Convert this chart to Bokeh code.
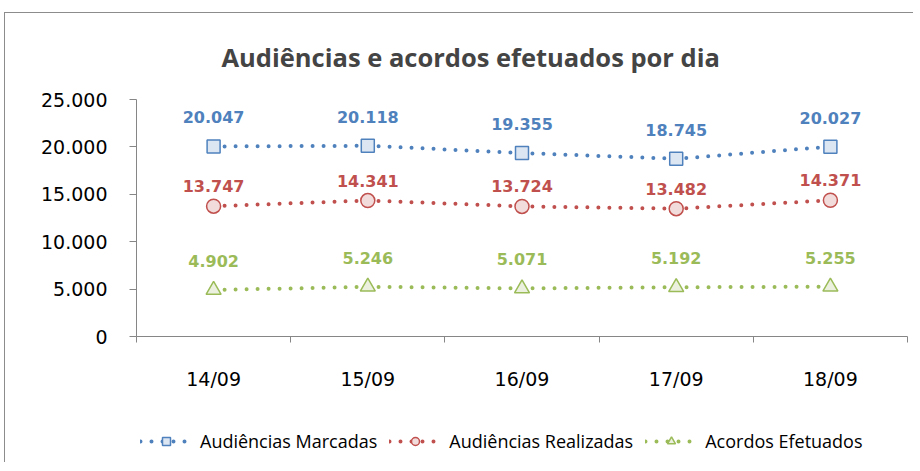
from bokeh.plotting import figure
from bokeh.layouts import column
from bokeh.models import FixedTicker, Range1d, Legend, LegendItem, ColumnDataSource
from bokeh.core.properties import value
from bokeh.embed import file_html
from bokeh.resources import INLINE

# ---- data ----
days = ["14/09", "15/09", "16/09", "17/09", "18/09"]
marcadas = [20047, 20118, 19355, 18745, 20027]
realizadas = [13747, 14341, 13724, 13482, 14371]
acordos = [4902, 5246, 5071, 5192, 5255]
y_ticks = [0, 5000, 10000, 15000, 20000, 25000]

series = [
    ("Audiências Marcadas", marcadas, "#4f81bd", "#dce6f2", "square", 13, 29),
    ("Audiências Realizadas", realizadas, "#c0504d", "#f2dcdb", "circle", 14, 20),
    ("Acordos Efetuados", acordos, "#9bbb59", "#ebf1de", "triangle", 15, 29),
]

def fmt(v):
    return f"{v:,}".replace(",", ".")

xs = [i + 0.5 for i in range(len(days))]

p = figure(frame_width=771, frame_height=237, x_range=Range1d(0, len(days)), y_range=Range1d(0, 25000),
           output_backend="svg", toolbar_location=None,
           min_border_left=131, min_border_right=6, min_border_top=86, min_border_bottom=0)
p.outline_line_color = None
p.xgrid.visible = False
p.ygrid.visible = False
p.background_fill_color = "white"
p.border_fill_color = "white"

p.title.text = "Audiências e acordos efetuados por dia"
p.title.text_font = "Open Sans"
p.title.text_font_style = "bold"
p.title.text_font_size = "25.5px"
p.title.align = "left"
p.title.offset = 85
p.title.vertical_align = "top"
p.title.standoff = 48

axis_color = "#868686"
yax = p.yaxis[0]
yax.ticker = FixedTicker(ticks=y_ticks)
yax.major_label_overrides = {t: fmt(t) for t in y_ticks}
yax.axis_line_color = axis_color
yax.major_tick_line_color = axis_color
yax.major_tick_out = 7
yax.major_tick_in = 0
yax.minor_tick_line_color = None
yax.major_label_text_font = "DejaVu Sans"
yax.major_label_text_font_size = "19px"
yax.major_label_text_color = "black"
yax.major_label_standoff = 22

xax = p.xaxis[0]
xax.ticker = FixedTicker(ticks=xs, minor_ticks=list(range(len(days) + 1)))
xax.major_label_overrides = {x: d for x, d in zip(xs, days)}
xax.axis_line_color = axis_color
xax.major_tick_line_color = None
xax.major_tick_out = 0
xax.major_tick_in = 0
xax.minor_tick_line_color = axis_color
xax.minor_tick_out = 6
xax.minor_tick_in = 0
xax.major_label_text_font = "DejaVu Sans"
xax.major_label_text_font_size = "19px"
xax.major_label_text_color = "black"
xax.major_label_standoff = 25

# legend strip (separate figure holding only the legend)
leg = figure(width=908, height=70, x_range=Range1d(0, 1), y_range=Range1d(0, 1),
             output_backend="svg", toolbar_location=None,
             x_axis_location=None, y_axis_location=None,
             min_border_left=0, min_border_right=0, min_border_top=0, min_border_bottom=0)
leg.outline_line_color = None
leg.xgrid.visible = False
leg.ygrid.visible = False
leg.background_fill_color = "white"
leg.border_fill_color = "white"

items = []
for name, vals, col, fill, marker, size, off in series:
    src = ColumnDataSource(dict(x=xs, y=vals, lab=[fmt(v) for v in vals]))
    p.line("x", "y", source=src, line_color=col, line_width=4, line_dash="0 11", line_cap="round")
    p.scatter("x", "y", source=src, marker=marker, size=size, fill_color=fill, line_color=col, line_width=1.5)
    p.text("x", "y", text="lab", source=src, text_color=col, text_font=value("DejaVu Sans"),
           text_font_style="bold", text_font_size="16px", text_align="center",
           text_baseline="middle", y_offset=-off)
    # same series in the legend strip (outside its visible range) for the legend glyphs
    ln = leg.line("x", "y", source=src, line_color=col, line_width=4, line_dash="0 11", line_cap="round")
    sc = leg.scatter("x", "y", source=src, marker=marker, size=size, fill_color=fill, line_color=col, line_width=1.5)
    items.append(LegendItem(label=name, renderers=[ln, sc]))

legend = Legend(items=items, orientation="horizontal", location=(4, 9),
                glyph_width=52, glyph_height=20, label_standoff=8, spacing=12,
                padding=0, margin=0, border_line_color=None,
                label_text_font="Open Sans", label_text_font_size="18px", label_text_color="black",
                background_fill_alpha=0)
leg.add_layout(legend, "center")

layout = column(p, leg, spacing=0)
layout.margin = (12, 0, 0, 4)
layout.styles = {"border-top": "1px solid #8c8c8c", "border-left": "1px solid #8c8c8c"}

open("out.html", "w").write(file_html(layout, INLINE))
